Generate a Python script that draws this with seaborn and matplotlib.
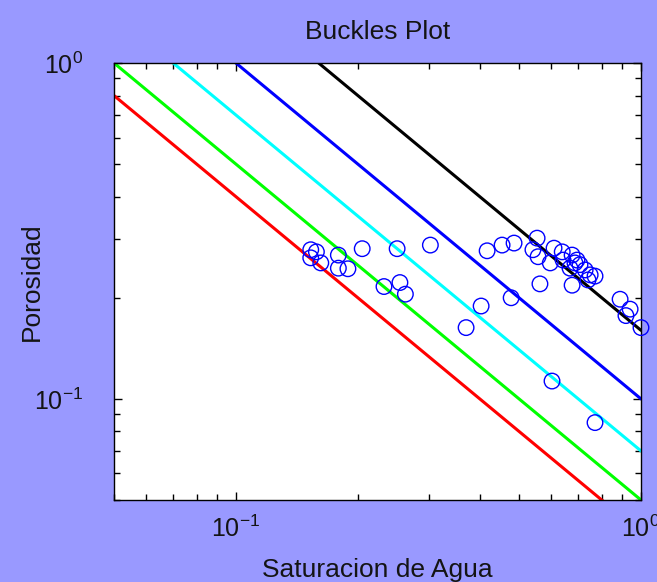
import matplotlib
matplotlib.use("Agg")
import matplotlib.pyplot as plt
import pandas as pd
import seaborn as sns
from matplotlib.ticker import LogLocator, FixedLocator, FuncFormatter, NullFormatter

# Core samples: water saturation (fraction) and porosity (fraction)
sw = [0.153, 0.158, 0.153, 0.162, 0.179, 0.179, 0.189, 0.205, 0.250, 0.302,
      0.232, 0.254, 0.262,
      0.417, 0.454, 0.486, 0.554, 0.541, 0.557, 0.610, 0.597, 0.639, 0.642,
      0.676, 0.695, 0.707, 0.668, 0.728, 0.749, 0.740, 0.770, 0.687, 0.563,
      0.676, 0.478, 0.403, 0.370, 0.888, 0.940, 0.918, 1.000, 0.603, 0.770]
phi = [0.278, 0.274, 0.263, 0.254, 0.268, 0.245, 0.244, 0.280, 0.280, 0.287,
       0.216, 0.222, 0.205,
       0.276, 0.287, 0.291, 0.301, 0.278, 0.265, 0.281, 0.254, 0.274, 0.259,
       0.268, 0.259, 0.251, 0.245, 0.242, 0.234, 0.226, 0.232, 0.254, 0.220,
       0.218, 0.200, 0.189, 0.163, 0.198, 0.185, 0.177, 0.163, 0.113, 0.085]

# Constant bulk-volume-water (Buckles number) lines
bvw = [0.04, 0.05, 0.07, 0.10, 0.16]
bvw_colors = ["#ff0000", "#00ff00", "#00ffff", "#0000ff", "#000000"]
sw_span = [0.05, 1.0]

x_ticks = [0.1, 1.0]
y_ticks = [0.1, 1.0]
x_tick_labels = [r"$\mathregular{10^{-1}}$", r"$\mathregular{10^{0}}$"]
y_tick_labels = [r"$\mathregular{10^{-1}}$", r"$\mathregular{10^{0}}$"]

sns.set_style("ticks")
plt.rcParams["font.family"] = ["Liberation Sans", "DejaVu Sans"]
plt.rcParams["mathtext.fontset"] = "custom"
plt.rcParams["mathtext.rm"] = "Liberation Sans"

bg = "#9999ff"
txt = "#141414"
fig = plt.figure(figsize=(6.57, 5.82), dpi=100, facecolor=bg)
ax = fig.add_axes([114 / 657, 1 - 500 / 582, 527 / 657, 437 / 582])
ax.set_facecolor("white")

lines = pd.DataFrame(
    [{"Sw": s, "phi": b / s, "bvw": str(b)} for b in bvw for s in sw_span]
)
sns.lineplot(data=lines, x="Sw", y="phi", hue="bvw",
             palette=dict(zip([str(b) for b in bvw], bvw_colors)),
             estimator=None, sort=False, linewidth=2.2, legend=False, ax=ax)

sns.scatterplot(x=sw, y=phi, marker="o", s=125, ax=ax, legend=False,
                clip_on=False, zorder=5)
pts = ax.collections[-1]
pts.set_facecolor("none")
pts.set_edgecolor("#0000ff")
pts.set_linewidth(1.0)

ax.set_xscale("log")
ax.set_yscale("log")
ax.set_xlim(0.05, 1.0)
ax.set_ylim(0.05, 1.0)

ax.xaxis.set_major_locator(FixedLocator(x_ticks))
ax.yaxis.set_major_locator(FixedLocator(y_ticks))
ax.xaxis.set_major_formatter(FuncFormatter(lambda v, p: x_tick_labels[x_ticks.index(v)] if v in x_ticks else ""))
ax.yaxis.set_major_formatter(FuncFormatter(lambda v, p: y_tick_labels[y_ticks.index(v)] if v in y_ticks else ""))
ax.xaxis.set_minor_locator(LogLocator(base=10, subs=range(2, 10)))
ax.yaxis.set_minor_locator(LogLocator(base=10, subs=range(2, 10)))
ax.xaxis.set_minor_formatter(NullFormatter())
ax.yaxis.set_minor_formatter(NullFormatter())

for sp in ax.spines.values():
    sp.set_visible(True)
    sp.set_color("black")
    sp.set_linewidth(1.0)

ax.tick_params(which="both", direction="in", top=True, right=True,
               color="black", width=1.0)
ax.tick_params(which="major", length=6)
ax.tick_params(which="minor", length=4)
ax.tick_params(axis="x", which="major", labelsize=18, pad=11, labelcolor=txt)
ax.tick_params(axis="y", which="major", labelsize=18, pad=22, labelcolor=txt)

ax.set_title("Buckles Plot", fontsize=19, color=txt, pad=17)
ax.set_xlabel("Saturacion de Agua", fontsize=19, color=txt, labelpad=12)
ax.set_ylabel("Porosidad", fontsize=19, color=txt, labelpad=-7)

fig.savefig("out.png", dpi=100, facecolor=bg)
